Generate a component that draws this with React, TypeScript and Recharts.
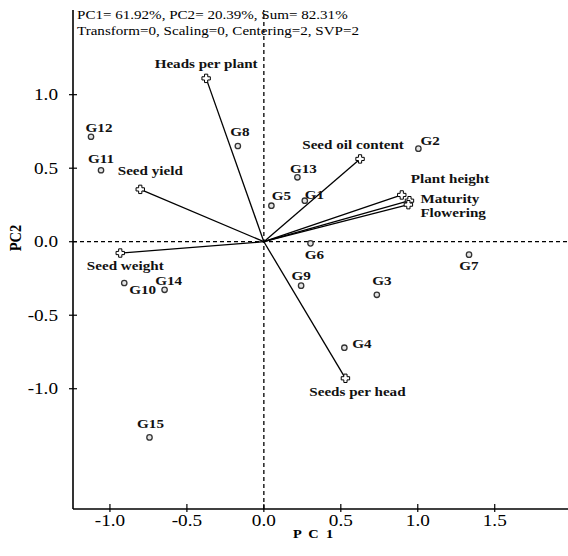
import React from 'react';
import {
  ScatterChart, Scatter, XAxis, YAxis, ReferenceLine,
} from 'recharts';

// genotype scores
const GENOTYPES = ['G1', 'G2', 'G3', 'G4', 'G5', 'G6', 'G7', 'G8', 'G9', 'G10', 'G11', 'G12', 'G13', 'G14', 'G15'];
const GENO_PC1 = [0.266, 1.004, 0.734, 0.523, 0.049, 0.303, 1.333, -0.169, 0.242, -0.907, -1.058, -1.123, 0.218, -0.645, -0.743];
const GENO_PC2 = [0.279, 0.633, -0.361, -0.721, 0.245, -0.011, -0.088, 0.651, -0.299, -0.281, 0.486, 0.714, 0.438, -0.327, -1.331];

// trait vectors
const TRAITS = ['Plant height', 'Maturity', 'Flowering', 'Heads per plant', 'Seeds per head', 'Seed weight', 'Seed yield', 'Seed oil content'];
const TRAIT_PC1 = [0.896, 0.946, 0.939, -0.375, 0.530, -0.933, -0.803, 0.625];
const TRAIT_PC2 = [0.318, 0.279, 0.252, 1.111, -0.929, -0.077, 0.356, 0.563];

const TICKS_X = [-1, -0.5, 0, 0.5, 1, 1.5];
const TICKS_Y = [-1, -0.5, 0, 0.5, 1];

const HEADER_1 = 'PC1= 61.92%, PC2= 20.39%, Sum= 82.31%';
const HEADER_2 = 'Transform=0, Scaling=0, Centering=2, SVP=2';

// label placement (dx, dy, anchor) in px
const LABEL_POS: Record<string, [number, number, string]> = {
  G1: [0, -2, 'start'], G2: [2, -4, 'start'], G3: [5, -10, 'middle'], G4: [8, 0, 'start'],
  G5: [10, -6, 'middle'], G6: [4, 16, 'middle'], G7: [0, 15, 'middle'], G8: [2, -10, 'middle'],
  G9: [0, -6, 'middle'], G10: [5, 11, 'start'], G11: [0, -7, 'middle'], G12: [8, -5, 'middle'],
  G13: [6, -4, 'middle'], G14: [4, -5, 'middle'], G15: [1, -9, 'middle'],
  'Heads per plant': [0, -10, 'middle'], 'Seed yield': [10, -14, 'middle'],
  'Seed weight': [5, 17, 'middle'], 'Seed oil content': [-7, -10, 'middle'],
  'Plant height': [9, -12, 'start'], Maturity: [11, 2, 'start'], Flowering: [12, 12, 'start'],
  'Seeds per head': [12, 18, 'middle'],
};

const genoData = GENOTYPES.map((name, i) => ({ name, x: GENO_PC1[i], y: GENO_PC2[i] }));
const traitData = TRAITS.map((name, i) => ({ name, x: TRAIT_PC1[i], y: TRAIT_PC2[i] }));

const FONT = '"Liberation Serif", "Times New Roman", serif';
const SX = 1.12;

const Label = ({ x, y, name }: { x: number; y: number; name: string }) => {
  const [dx, dy, anchor] = LABEL_POS[name] || [0, -8, 'middle'];
  return (
    <text
      transform={`translate(${x + dx},${y + dy}) scale(${SX},1)`}
      textAnchor={anchor as any}
      fontFamily={FONT}
      fontWeight="bold"
      fontSize={13.5}
      fill="#111"
    >
      {name}
    </text>
  );
};

const GenoShape = (props: any) => {
  const { cx, cy, payload } = props;
  return (
    <g>
      <circle cx={cx} cy={cy} r={2.7} fill="#e4e4e4" stroke="#333" strokeWidth={1.3} />
      <Label x={cx} y={cy} name={payload.name} />
    </g>
  );
};

const TraitShape = (props: any) => {
  const { cx, cy, payload } = props;
  const a = 1.6;
  const b = 4.2;
  const d = `M${cx - a},${cy - b}H${cx + a}V${cy - a}H${cx + b}V${cy + a}H${cx + a}V${cy + b}H${cx - a}V${cy + a}H${cx - b}V${cy - a}H${cx - a}Z`;
  return (
    <g>
      <path d={d} fill="#fff" stroke="#000" strokeWidth={1} />
      <Label x={cx} y={cy} name={payload.name} />
    </g>
  );
};

const fmt = (v: number) => v.toFixed(1);

const XTick = (props: any) => {
  const { x, y, payload } = props;
  return (
    <g>
      <line x1={x} x2={x} y1={y - 5} y2={y + 3} stroke="#000" strokeWidth={1.2} />
      <text transform={`translate(${x},${y + 17}) scale(1.2,1)`} textAnchor="middle"
        fontFamily={FONT} fontSize={16} fill="#000">{fmt(payload.value)}</text>
    </g>
  );
};

const YTick = (props: any) => {
  const { x, y, payload } = props;
  return (
    <g>
      <line x1={x - 4} x2={x + 4} y1={y} y2={y} stroke="#000" strokeWidth={1.2} />
      <text transform={`translate(${x - 15},${y + 5.5}) scale(1.2,1)`} textAnchor="end"
        fontFamily={FONT} fontSize={16} fill="#000">{fmt(payload.value)}</text>
    </g>
  );
};

// plot runs past the right edge of the picture, as in the reference
const X_DOMAIN: [number, number] = [-1.24, 2.054];
const Y_DOMAIN: [number, number] = [-1.818, 1.576];

export default function App() {
  return (
    <div style={{ position: 'absolute', left: 0, top: 0, width: 568, height: 556, overflow: 'hidden', background: '#fff' }}>
      <ScatterChart width={580} height={556} margin={{ top: 10, right: 0, bottom: 0, left: 0 }}>
        <XAxis
          type="number" dataKey="x" domain={X_DOMAIN} ticks={TICKS_X} allowDataOverflow
          height={47} axisLine={{ stroke: '#000', strokeWidth: 1.6 }} tickLine={false}
          tickSize={0} tickMargin={0} tick={<XTick />} interval={0}
        />
        <XAxis
          xAxisId="top" orientation="top" type="number" domain={X_DOMAIN} allowDataOverflow
          height={0} axisLine={{ stroke: '#000', strokeWidth: 1.6 }} tick={false} tickLine={false}
        />
        <YAxis
          type="number" dataKey="y" domain={Y_DOMAIN} ticks={TICKS_Y} allowDataOverflow
          width={73} axisLine={{ stroke: '#000', strokeWidth: 1.6 }} tickLine={false}
          tickSize={0} tickMargin={0} tick={<YTick />} interval={0}
        />
        <ReferenceLine x={0} stroke="#000" strokeWidth={1.3} strokeDasharray="4 3" />
        <ReferenceLine y={0} stroke="#000" strokeWidth={1.3} strokeDasharray="4 3" />
        {traitData.map((t) => (
          <ReferenceLine
            key={t.name}
            segment={[{ x: 0, y: 0 }, { x: t.x, y: t.y }]}
            stroke="#000"
            strokeWidth={1.3}
          />
        ))}
        <Scatter data={genoData} shape={<GenoShape />} isAnimationActive={false} />
        <Scatter data={traitData} shape={<TraitShape />} isAnimationActive={false} />
      </ScatterChart>
      <svg width={568} height={556} style={{ position: 'absolute', left: 0, top: 0, pointerEvents: 'none' }}>
        <text transform="translate(77,19) scale(1.16,1)" fontFamily={FONT} fontSize={13} fill="#000">{HEADER_1}</text>
        <text transform="translate(77,35) scale(1.16,1)" fontFamily={FONT} fontSize={13} fill="#000">{HEADER_2}</text>
        <text transform="translate(21,238) scale(1.2,1) rotate(-90)" textAnchor="middle"
          fontFamily={FONT} fontWeight="bold" fontSize={14.5} fill="#000">PC2</text>
        <text transform="translate(314,538) scale(1.2,1)" textAnchor="middle"
          fontFamily={FONT} fontWeight="bold" fontSize={12} letterSpacing={1.5} fill="#000">P C 1</text>
      </svg>
    </div>
  );
}
